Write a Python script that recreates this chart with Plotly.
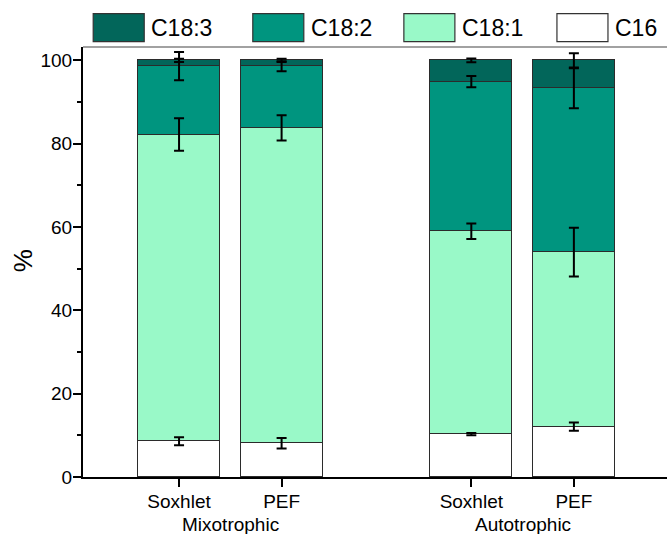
import numpy as np
import plotly.graph_objects as go

# Fatty acid composition (%) per extraction method and culture condition
groups = ["Mixotrophic", "Autotrophic"]
methods = ["Soxhlet", "PEF", "Soxhlet", "PEF"]
x_pos = [1.0, 2.0, 3.85, 4.85]

acids = ["C16", "C18:1", "C18:2", "C18:3"]
c16 = [8.6, 8.1, 10.3, 12.1]
c18_1 = [73.6, 75.7, 48.7, 41.9]
c18_2 = [16.4, 14.8, 35.9, 39.3]
c18_3 = [1.4, 1.4, 5.1, 6.7]

err_c16 = [0.95, 1.25, 0.25, 1.0]
err_c18_1 = [3.9, 3.05, 1.85, 5.85]
err_c18_2 = [3.4, 1.2, 1.35, 4.8]
err_c18_3 = [0.4, 0.4, 0.45, 1.7]

colors = ["#ffffff", "#99f9c8", "#00957f", "#02665a"]

values = [c16, c18_1, c18_2, c18_3]
errors = [err_c16, err_c18_1, err_c18_2, err_c18_3]

fig = go.Figure()

for name, vals, col in zip(acids, values, colors):
    fig.add_trace(go.Bar(
        x=x_pos, y=vals, name=name, width=0.8,
        marker=dict(color=col, line=dict(color="#2b2b2b", width=1.2)),
        showlegend=False,
    ))

# error bars sit on top of each stacked segment
cum = np.cumsum(np.array(values), axis=0)
for tops, errs in zip(cum, errors):
    fig.add_trace(go.Scatter(
        x=x_pos, y=tops, mode="markers",
        marker=dict(size=1, opacity=0),
        error_y=dict(type="data", array=errs, visible=True,
                     color="black", thickness=2, width=5),
        showlegend=False, hoverinfo="skip",
    ))

# pixel -> paper helpers for the plot area
L, R, T, B = 83.3, 667.0, 47.3, 477.5
def px(xp):
    return (xp - L) / (R - L)
def py(yp):
    return (B - yp) / (B - T)

shapes = []
annotations = []

# legend drawn as large swatches across the top
legend_order = [3, 2, 1, 0]
sw_left = [93.5, 253, 404, 557]
for i, k in enumerate(legend_order):
    shapes.append(dict(type="rect", xref="paper", yref="paper",
                       x0=px(sw_left[i]), x1=px(sw_left[i] + 51),
                       y0=py(42), y1=py(14),
                       fillcolor=colors[k],
                       line=dict(color="#333333", width=1.2)))
    annotations.append(dict(xref="paper", yref="paper",
                            x=px(sw_left[i] + 56), y=py(28),
                            xanchor="left", yanchor="middle",
                            text=acids[k], showarrow=False,
                            font=dict(size=23, color="black")))

# top frame line
shapes.append(dict(type="line", xref="paper", yref="paper",
                   x0=0, x1=1, y0=1, y1=1,
                   line=dict(color="#444444", width=1.2)))

# group labels under the method ticks
for gi, g in enumerate(groups):
    xc = (x_pos[2 * gi] + x_pos[2 * gi + 1]) / 2
    annotations.append(dict(xref="x", yref="paper", x=xc, y=py(525),
                            xanchor="center", yanchor="middle",
                            text=g, showarrow=False,
                            font=dict(size=19, color="black")))

# y-axis title
annotations.append(dict(xref="paper", yref="paper", x=px(23), y=py(261),
                        xanchor="center", yanchor="middle", text="%",
                        textangle=-90, showarrow=False,
                        font=dict(size=26, color="black")))

x_left = x_pos[0] - (179.3 - L) / 102.5
x_right = x_pos[0] + (R - 179.3) / 102.5

fig.update_layout(
    width=667, height=534,
    margin=dict(l=L, r=0, t=T, b=534 - B),
    barmode="stack",
    bargap=0,
    plot_bgcolor="white", paper_bgcolor="white",
    font=dict(family="Liberation Sans, Arial, sans-serif", size=19, color="black"),
    shapes=shapes, annotations=annotations,
    xaxis=dict(range=[x_left, x_right], tickvals=x_pos, ticktext=methods,
               showline=True, linecolor="black", linewidth=2,
               ticks="outside", ticklen=8, tickwidth=2, tickcolor="black",
               ticklabelstandoff=-2,
               showgrid=False, zeroline=False,
               tickfont=dict(size=19)),
    yaxis=dict(range=[0, 103.2], tickvals=[0, 20, 40, 60, 80, 100],
               showline=True, linecolor="black", linewidth=2,
               ticks="outside", ticklen=8, tickwidth=1.5, tickcolor="black",
               ticklabelstandoff=-3,
               minor=dict(tickvals=[10, 30, 50, 70, 90], ticks="outside",
                          ticklen=4, tickwidth=1.5, tickcolor="black"),
               showgrid=False, zeroline=False,
               tickfont=dict(size=19)),
)

fig.write_html("out.html")
